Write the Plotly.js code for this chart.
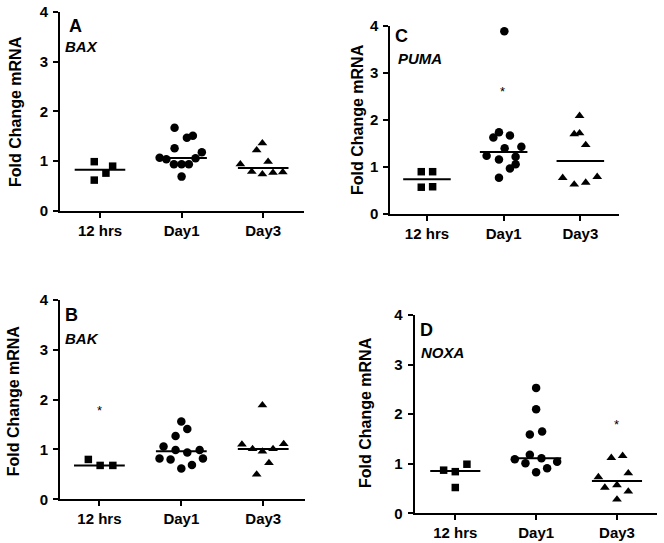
<!DOCTYPE html>
<html>
<head>
<meta charset="utf-8">
<script src="https://cdn.plot.ly/plotly-3.0.1.min.js"></script>
<style>html,body{margin:0;padding:0;background:#fff;}#chart{width:664px;height:543px;}</style>
</head>
<body>
<div id="chart"></div>
<script>
// ---- data ----
const categories = ['12 hrs', 'Day1', 'Day3'];
const catPos = [0, 1, 2];
const yTicks = [0, 1, 2, 3, 4];

// Panel A: BAX
const baxH12 = [0.99, 0.90, 0.76, 0.62];
const baxH12X = [-0.07, 0.155, 0.073, -0.07];
const baxD1 = [1.67, 1.47, 1.51, 1.26, 1.18, 1.07, 1.04, 0.94, 0.94, 0.94, 1.06, 0.69];
const baxD1X = [0.914, 1.065, 1.138, 0.914, 1.248, 0.731, 0.813, 0.906, 1.0, 1.089, 1.171, 1.0];
const baxD3 = [1.36, 1.22, 0.94, 0.99, 0.79, 0.74, 0.77, 0.78];
const baxD3X = [1.99, 1.92, 1.72, 2.06, 1.86, 1.99, 2.12, 2.24];

// Panel C: PUMA
const pumaH12 = [0.90, 0.90, 0.57, 0.58];
const pumaH12X = [-0.074, 0.074, -0.074, 0.074];
const pumaD1 = [3.89, 1.74, 1.63, 1.67, 1.40, 1.43, 1.24, 1.16, 1.22, 1.06, 0.97, 0.77];
const pumaD1X = [1.009, 0.939, 0.866, 1.082, 1.013, 1.231, 0.778, 0.939, 1.156, 1.156, 1.082, 0.939];
const pumaD3 = [2.09, 1.70, 1.72, 1.47, 0.77, 0.63, 0.67, 0.79];
const pumaD3X = [1.99, 1.92, 1.99, 2.07, 1.77, 1.92, 2.07, 2.22];
const pumaStar = [0.98, 2.67];

// Panel B: BAK
const bakH12 = [0.80, 0.68, 0.68];
const bakH12X = [-0.135, 0.009, 0.164];
const bakD1 = [1.56, 1.41, 1.27, 1.06, 0.99, 0.94, 0.99, 0.82, 0.80, 0.82, 0.62, 0.69];
const bakD1X = [1.0, 1.073, 0.930, 0.783, 0.930, 1.073, 1.224, 0.734, 0.869, 1.264, 1.0, 1.130];
const bakD3 = [1.89, 1.10, 1.01, 0.96, 1.01, 1.11, 0.73, 0.50];
const bakD3X = [1.99, 1.74, 1.87, 1.99, 2.12, 2.25, 2.07, 1.92];
const bakStar = [0, 1.85];

// Panel D: NOXA
const noxaH12 = [0.87, 0.84, 0.99, 0.52];
const noxaH12X = [-0.144, 0, 0.144, 0];
const noxaD1 = [2.53, 2.10, 1.59, 1.65, 1.18, 1.09, 1.01, 1.11, 0.83, 0.91, 1.04];
const noxaD1X = [1.0, 1.0, 0.922, 1.074, 0.922, 0.736, 0.868, 1.066, 1.0, 1.136, 1.26];
const noxaD3 = [1.12, 1.16, 0.73, 0.81, 0.52, 0.57, 0.44, 0.28];
const noxaD3X = [1.93, 2.07, 1.77, 2.14, 1.85, 2.0, 2.14, 2.0];
const noxaStar = [2.0, 1.85];

const yTitle = 'Fold Change mRNA';

// ---- build ----
const W = 664, H = 543;
const FONT = 'Liberation Sans, Arial, sans-serif';
function median(a) {
  const s = a.slice().sort((p, q) => p - q);
  const n = s.length;
  return n % 2 ? s[(n - 1) / 2] : (s[n / 2 - 1] + s[n / 2]) / 2;
}

const panels = [
  { ax: '', letter: 'A', gene: 'BAX', groups: [[baxH12X, baxH12], [baxD1X, baxD1], [baxD3X, baxD3]], star: null,
    px: [60, 304], py: [211, 11.7], xr: [-0.49, 2.5], letterPos: [-0.306, 3.71], genePos: [-0.453, 3.30], titlePos: [15, 112] },
  { ax: '2', letter: 'C', gene: 'PUMA', groups: [[pumaH12X, pumaH12], [pumaD1X, pumaD1], [pumaD3X, pumaD3]], star: pumaStar,
    px: [390.3, 619.3], py: [214, 26], xr: [-0.478, 2.508], letterPos: [-0.326, 3.79], genePos: [-0.404, 3.31], titlePos: [357, 120] },
  { ax: '3', letter: 'B', gene: 'BAK', groups: [[bakH12X, bakH12], [bakD1X, bakD1], [bakD3X, bakD3]], star: bakStar,
    px: [60, 305], py: [499.3, 300], xr: [-0.481, 2.51], letterPos: [-0.338, 3.70], genePos: [-0.44, 3.23], titlePos: [13.3, 401] },
  { ax: '4', letter: 'D', gene: 'NOXA', groups: [[noxaH12X, noxaH12], [noxaD1X, noxaD1], [noxaD3X, noxaD3]], star: noxaStar,
    px: [414.7, 657], py: [513.3, 315], xr: [-0.502, 2.495], letterPos: [-0.35, 3.70], genePos: [-0.453, 3.25], titlePos: [366, 413] }
];

const symbols = ['square', 'circle', 'triangle-up'];
const sizes = [7.5, 8.5, 8.5];
const traces = [];
const layout = {
  width: W, height: H,
  margin: { l: 0, r: 0, t: 0, b: 0 },
  paper_bgcolor: '#fff', plot_bgcolor: '#fff',
  showlegend: false,
  font: { family: FONT, color: '#000' },
  annotations: []
};

panels.forEach(p => {
  const xa = 'x' + p.ax, ya = 'y' + p.ax;
  p.groups.forEach((g, i) => {
    traces.push({
      type: 'scatter', mode: 'markers', x: g[0], y: g[1], xaxis: xa, yaxis: ya,
      marker: { symbol: symbols[i], size: sizes[i], color: '#000' }, cliponaxis: false, hoverinfo: 'skip'
    });
    const m = median(g[1]);
    traces.push({
      type: 'scatter', mode: 'lines', x: [catPos[i] - 0.31, catPos[i] + 0.31], y: [m, m], xaxis: xa, yaxis: ya,
      line: { color: '#000', width: 2 }, cliponaxis: false, hoverinfo: 'skip'
    });
  });
  const axCommon = {
    showline: true, linecolor: '#000', linewidth: 2, ticks: 'outside', ticklen: 5, tickwidth: 2, tickcolor: '#000',
    showgrid: false, zeroline: false, fixedrange: true
  };
  layout['xaxis' + p.ax] = Object.assign({}, axCommon, {
    domain: [p.px[0] / W, p.px[1] / W], anchor: ya, range: p.xr,
    tickvals: catPos, ticktext: categories,
    tickfont: { family: FONT, size: 15, weight: 'bold', color: '#000' }
  });
  layout['yaxis' + p.ax] = Object.assign({}, axCommon, {
    domain: [1 - p.py[0] / H, 1 - p.py[1] / H], anchor: xa, range: [0, 4],
    tickvals: yTicks, ticklabelstandoff: 2,
    tickfont: { family: FONT, size: 15, weight: 'bold', color: '#000' }
  });
  layout.annotations.push({
    xref: xa, yref: ya, x: p.letterPos[0], y: p.letterPos[1], text: p.letter, showarrow: false,
    xanchor: 'center', yanchor: 'middle', font: { family: FONT, size: 18, weight: 'bold', color: '#000' }
  });
  layout.annotations.push({
    xref: xa, yref: ya, x: p.genePos[0], y: p.genePos[1], text: '<i>' + p.gene + '</i>', showarrow: false,
    xanchor: 'left', yanchor: 'middle', font: { family: FONT, size: 15, weight: 'bold', color: '#000' }
  });
  layout.annotations.push({
    xref: 'paper', yref: 'paper', x: p.titlePos[0] / W, y: 1 - p.titlePos[1] / H, text: yTitle, showarrow: false,
    textangle: -90, xanchor: 'center', yanchor: 'middle', font: { family: FONT, size: 16, weight: 'bold', color: '#000' }
  });
  if (p.star) {
    layout.annotations.push({
      xref: xa, yref: ya, x: p.star[0], y: p.star[1], text: '*', showarrow: false, yshift: -3,
      xanchor: 'center', yanchor: 'middle', font: { family: FONT, size: 13, color: '#000' }
    });
  }
});

Plotly.newPlot('chart', traces, layout, { staticPlot: true, displayModeBar: false });
</script>
</body>
</html>
